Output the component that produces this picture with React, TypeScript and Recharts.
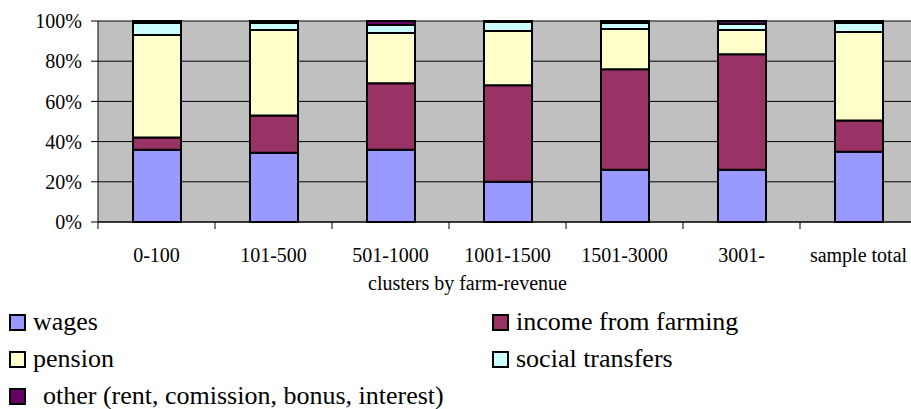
import React from "react";
import { BarChart, Bar, XAxis, YAxis, CartesianGrid } from "recharts";

// clusters by farm-revenue
const clusters = ["0-100", "101-500", "501-1000", "1001-1500", "1501-3000", "3001-", "sample total"];

// shares of household income, %
const wages = [36, 34.5, 36, 20, 26, 26, 35];
const farming = [6, 18.5, 33, 48, 50, 57.5, 15.5];
const pension = [51, 42.5, 25, 27, 20, 12, 44];
const social = [6, 3.5, 4, 4.5, 3, 3, 4.5];
const other = [1, 1, 2, 0.5, 1, 1.5, 1];

const yTicks = [0, 0.2, 0.4, 0.6, 0.8, 1];

const series = [
  { key: "wages", name: "wages", color: "#9999FF" },
  { key: "farming", name: "income from farming", color: "#993366" },
  { key: "pension", name: "pension", color: "#FFFFCC" },
  { key: "social", name: "social transfers", color: "#CCFFFF" },
  { key: "other", name: "other (rent, comission, bonus, interest)", color: "#660066" },
];

const data = clusters.map((c, i) => ({
  cluster: c,
  wages: wages[i],
  farming: farming[i],
  pension: pension[i],
  social: social[i],
  other: other[i],
}));

const FONT = "Liberation Serif, DejaVu Serif, serif";
const CHART_W = 918;
const Y_AXIS_W = 98;
const RIGHT = 1;
const halfBand = (CHART_W - Y_AXIS_W - RIGHT) / clusters.length / 2;

// Excel-style category ticks: marks sit on the boundaries, labels in the middle
const CategoryTick = (props: any) => {
  const { x, y, payload, index } = props;
  return (
    <g>
      {index === 0 && <line x1={x - halfBand} x2={x - halfBand} y1={y} y2={y + 7} stroke="#000" />}
      <line x1={x + halfBand} x2={x + halfBand} y1={y} y2={y + 7} stroke="#000" />
      <text x={x} y={y + 40} textAnchor="middle" style={{ fontSize: 20, fontFamily: FONT }} fill="#000">
        {payload.value}
      </text>
    </g>
  );
};

const Swatch = ({ color }: { color: string }) => (
  <span
    style={{
      display: "inline-block",
      width: 17,
      height: 17,
      boxSizing: "border-box",
      border: "2px solid #000",
      background: color,
    }}
  />
);

const LegendItem = ({ s, left, top, gap = 7 }: any) => (
  <div
    style={{
      position: "absolute",
      left,
      top,
      display: "flex",
      alignItems: "center",
      height: 30,
      fontFamily: FONT,
      fontSize: 26,
      whiteSpace: "nowrap",
      color: "#000",
    }}
  >
    <Swatch color={s.color} />
    <span style={{ marginLeft: gap }}>{s.name}</span>
  </div>
);

export default function App() {
  return (
    <div
      style={{
        position: "absolute",
        left: 0,
        top: 0,
        width: 911,
        height: 409,
        overflow: "hidden",
        background: "#fff",
        fontFamily: FONT,
      }}
    >
      <BarChart
        width={CHART_W}
        height={300}
        data={data}
        stackOffset="expand"
        barSize={48}
        margin={{ top: 21, right: RIGHT, left: 0, bottom: 0 }}
        style={{ fontFamily: FONT }}
      >
        <CartesianGrid fill="#C0C0C0" vertical={false} stroke="#000" strokeOpacity={1} />
        <XAxis
          dataKey="cluster"
          height={78}
          tickLine={false}
          tickSize={0}
          tickMargin={0}
          interval={0}
          stroke="#000"
          tick={<CategoryTick />}
          label={{
            value: "clusters by farm-revenue",
            position: "insideBottom",
            offset: 10,
            dx: -40,
            fontSize: 20,
            fontFamily: FONT,
            fill: "#000",
          }}
        />
        <YAxis
          width={Y_AXIS_W}
          ticks={yTicks}
          domain={[0, 1]}
          tickSize={7}
          tickMargin={9}
          stroke="#000"
          tick={{ fontSize: 20, fontFamily: FONT, fill: "#000" }}
          tickFormatter={(v: number) => `${Math.round(v * 100)}%`}
        />
        {series.map((s) => (
          <Bar
            key={s.key}
            dataKey={s.key}
            name={s.name}
            stackId="a"
            fill={s.color}
            stroke="#000"
            strokeWidth={2}
            isAnimationActive={false}
          />
        ))}
      </BarChart>
      <LegendItem s={series[0]} left={9} top={307} />
      <LegendItem s={series[1]} left={492} top={307} />
      <LegendItem s={series[2]} left={9} top={344} />
      <LegendItem s={series[3]} left={492} top={344} />
      <LegendItem s={series[4]} left={9} top={381} gap={17} />
    </div>
  );
}
